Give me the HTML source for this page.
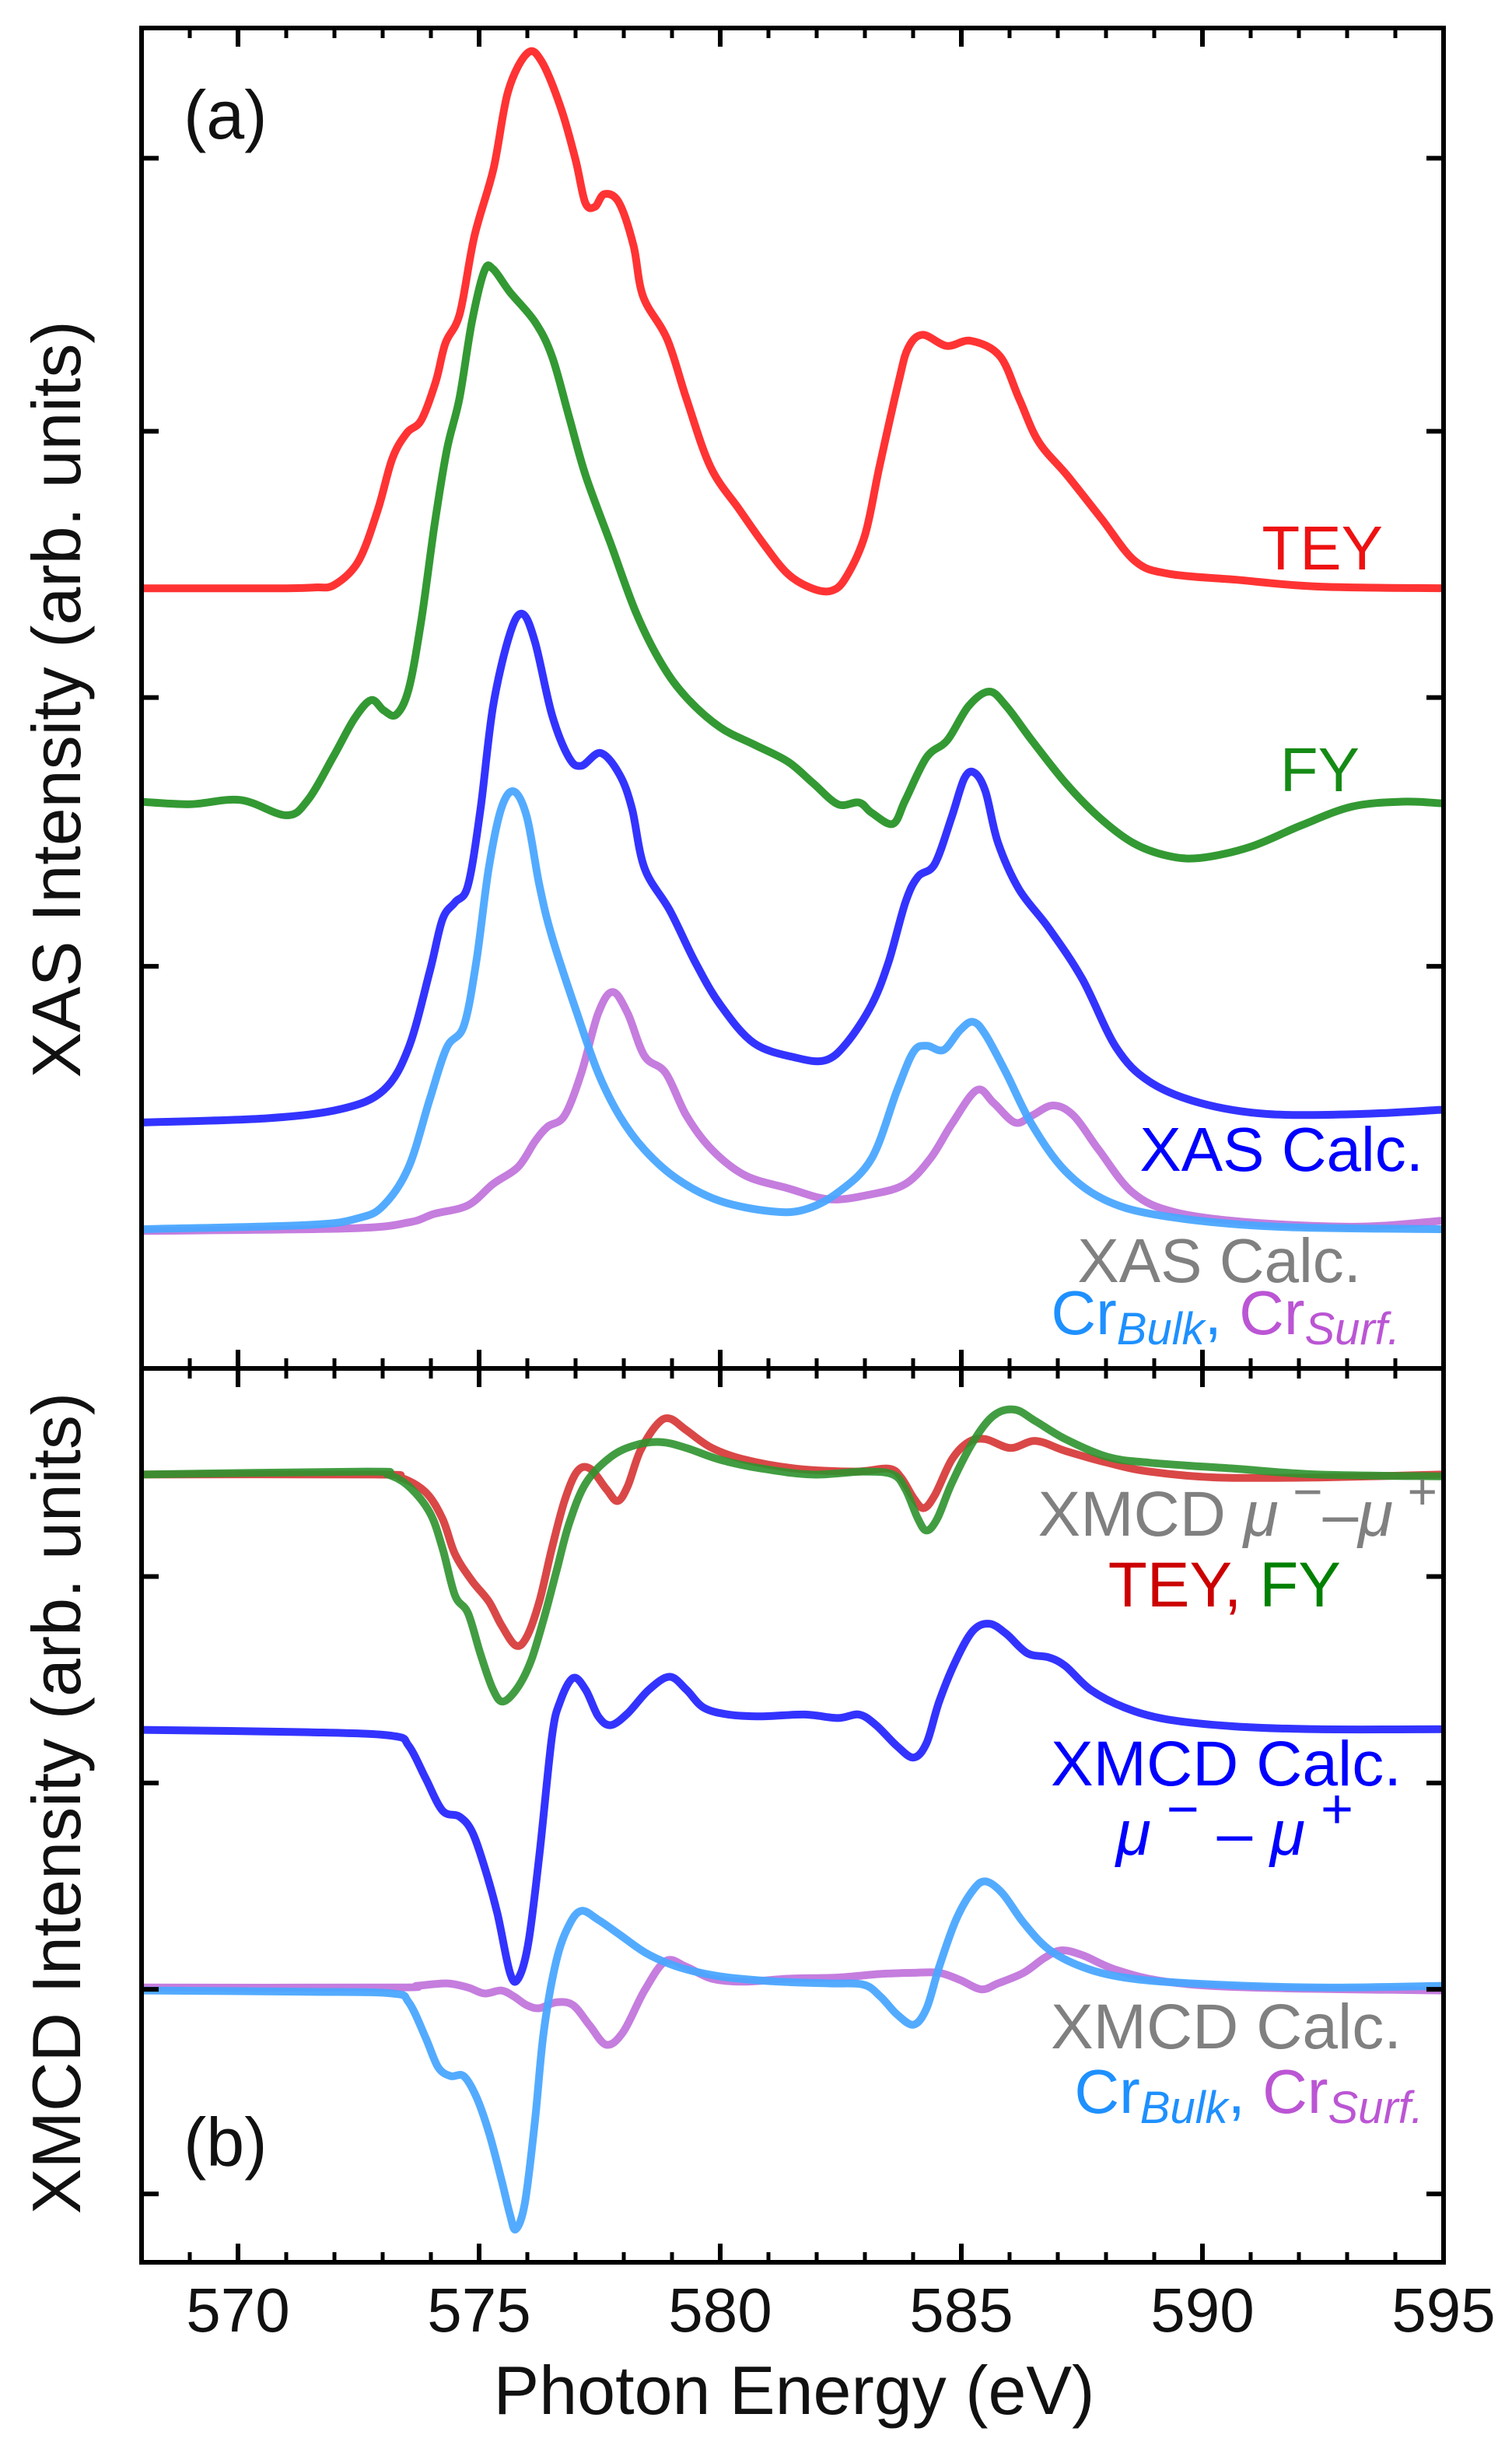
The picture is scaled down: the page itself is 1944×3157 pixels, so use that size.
<!DOCTYPE html>
<html><head><meta charset="utf-8"><style>
html,body{margin:0;padding:0;background:#fff}
svg{display:block}
text{font-family:"Liberation Sans",Arial,sans-serif}
</style></head><body>
<svg id="chart" width="1944" height="3157" viewBox="0 0 1944 3157" xmlns="http://www.w3.org/2000/svg">
<defs>
<clipPath id="clipA"><rect x="183" y="36" width="1672" height="1720"/></clipPath>
<clipPath id="clipB"><rect x="183" y="1762" width="1672" height="1144"/></clipPath>
</defs>
<g id="curvesA" clip-path="url(#clipA)"></g>
<g id="curvesB" clip-path="url(#clipB)"></g>
<g id="axes"></g>

<text x="236" y="178" font-size="88" fill="#111">(a)</text>
<text x="236" y="2784" font-size="88" fill="#111">(b)</text>

<text x="1778" y="732" font-size="80" fill="#ee1111" text-anchor="end">TEY</text>
<text x="1748" y="1017" font-size="80" fill="#158a15" text-anchor="end">FY</text>
<text x="1830" y="1505" font-size="80" fill="#0000ff" text-anchor="end">XAS Calc.</text>
<text x="1750" y="1648" font-size="80" fill="#808080" text-anchor="end">XAS Calc.</text>
<text x="1800" y="1715" font-size="80" text-anchor="end"><tspan fill="#1e90ff">Cr</tspan><tspan fill="#1e90ff" font-size="58" font-style="italic" dy="13">Bulk</tspan><tspan fill="#1e90ff" font-size="80" dy="-13">, </tspan><tspan fill="#bb55d4">Cr</tspan><tspan fill="#bb55d4" font-size="58" font-style="italic" dy="13">Surf.</tspan></text>

<text x="1848" y="1974" font-size="82" fill="#808080" text-anchor="end">XMCD <tspan font-style="italic">μ</tspan><tspan font-size="66" dy="-34"> −</tspan><tspan dy="34">–</tspan><tspan font-style="italic">μ</tspan><tspan font-size="66" dy="-34"> +</tspan></text>
<text x="1724" y="2065" font-size="82" text-anchor="end"><tspan fill="#cc0000">TEY, </tspan><tspan fill="#008000">FY</tspan></text>
<text x="1802" y="2295" font-size="82" fill="#0000ff" text-anchor="end">XMCD Calc.</text>
<text x="1740" y="2384" font-size="82" fill="#0000ff" text-anchor="end"><tspan font-style="italic">μ</tspan><tspan font-size="72" dy="-34"> −</tspan><tspan dy="34"> – </tspan><tspan font-style="italic">μ</tspan><tspan font-size="72" dy="-34"> +</tspan></text>
<text x="1802" y="2633" font-size="82" fill="#808080" text-anchor="end">XMCD Calc.</text>
<text x="1830" y="2716" font-size="80" text-anchor="end"><tspan fill="#1e90ff">Cr</tspan><tspan fill="#1e90ff" font-size="58" font-style="italic" dy="13">Bulk</tspan><tspan fill="#1e90ff" font-size="80" dy="-13">, </tspan><tspan fill="#bb55d4">Cr</tspan><tspan fill="#bb55d4" font-size="58" font-style="italic" dy="13">Surf.</tspan></text>

<text transform="translate(103,899) rotate(-90)" font-size="88" fill="#111" text-anchor="middle">XAS Intensity (arb. units)</text>
<text transform="translate(103,2318) rotate(-90)" font-size="88" fill="#111" text-anchor="middle">XMCD Intensity (arb. units)</text>
<text x="1021" y="3103" font-size="88" fill="#111" text-anchor="middle">Photon Energy (eV)</text>
</svg>
<script>
// ---- Panel (a) XAS data (energy eV, intensity arb.) ----
const teyE=[568,570,571,571.6,572.0,572.5,572.9,573.2,573.5,573.8,574.1,574.3,574.6,574.9,575.3,575.6,576.0,576.3,576.7,577.0,577.2,577.4,577.6,577.9,578.2,578.4,578.9,579.3,579.8,580.4,580.9,581.4,581.9,582.3,582.6,583.0,583.3,583.7,583.9,584.2,584.7,585.2,585.8,586.2,586.6,587.2,587.9,588.6,589.3,590.7,592.4,595];
const teyI=[758,758,758,759,762,790,850,910,940,955,1000,1045,1080,1170,1250,1340,1385,1375,1320,1260,1210,1205,1220,1210,1160,1100,1050,980,900,850,810,775,758,755,770,820,900,1000,1040,1055,1042,1048,1030,980,930,890,840,790,775,768,760,758];
const fyE=[567.96,569.0,570.05,571.0,571.45,571.97,572.41,572.76,573.02,573.28,573.54,573.80,574.07,574.33,574.59,574.85,575.11,575.29,575.64,576.16,576.51,576.86,577.21,577.73,578.25,578.78,579.30,580.0,580.70,581.40,581.92,582.44,582.88,583.14,583.58,583.84,584.28,584.71,585.15,585.58,585.93,586.46,587.16,587.85,588.55,589.25,589.95,590.99,592.04,593.09,594.14,594.97];
const fyI=[508,505,510,492,510,560,605,627,615,610,640,720,830,920,980,1070,1130,1132,1105,1070,1030,960,890,810,730,670,630,595,575,555,530,505,507,495,482,510,560,580,620,637,620,580,530,490,460,445,442,455,480,502,508,506];
const calcE=[568.0,570.6,572.15,573.02,573.54,573.98,574.24,574.50,574.77,575.03,575.29,575.64,575.90,576.16,576.51,576.86,577.12,577.52,577.91,578.17,578.43,578.96,579.48,580.0,580.70,581.57,582.18,582.62,583.14,583.49,583.84,584.10,584.45,584.80,585.06,585.27,585.50,585.76,586.20,586.81,587.51,588.21,588.90,589.95,591.35,593.26,594.97];
const calcI=[132,137,148,170,220,310,370,390,410,500,620,705,728,695,610,560,550,565,540,500,430,380,320,270,225,208,205,225,270,320,390,420,435,490,535,542,520,460,405,360,300,220,180,155,142,142,147];
const bulkE=[568.0,571.45,572.5,573.02,573.54,573.98,574.33,574.68,574.94,575.20,575.46,575.72,575.99,576.25,576.51,577.03,577.47,577.91,578.43,579.13,580.0,581.05,581.75,582.44,583.14,583.67,584.01,584.28,584.63,584.97,585.24,585.50,585.93,586.46,587.16,588.03,589.25,591.52,594.97];
const bulkI=[7,12,20,35,80,160,220,245,320,430,500,520,490,410,350,260,190,140,100,65,40,28,30,50,90,170,215,222,217,240,250,235,190,130,75,40,22,10,7];
const surfE=[568.0,572.32,573.54,574.07,574.77,575.29,575.81,576.16,576.42,576.77,577.12,577.47,577.77,578.08,578.43,578.87,579.30,579.83,580.52,581.40,582.27,583.14,583.84,584.36,584.80,585.32,585.67,586.11,586.46,586.90,587.33,587.85,588.55,589.42,591.0,593.26,594.97];
const surfI=[5,8,15,25,35,60,80,110,127,140,190,260,285,260,210,190,140,100,70,55,42,48,60,90,130,170,155,132,140,152,140,100,50,27,15,10,17];
// ---- Panel (b) XMCD data ----
const mTeyE=[567.96,572.84,573.37,573.89,574.24,574.50,574.85,575.20,575.46,575.76,575.99,576.25,576.51,576.77,577.03,577.30,577.64,577.87,578.08,578.34,578.69,578.95,579.30,579.83,580.52,581.57,582.79,583.49,583.75,584.01,584.22,584.45,584.80,585.15,585.50,586.02,586.54,587.16,588.03,588.90,590.30,592.39,594.97];
const mTeyI=[873,873,868,843,798,738,693,658,618,583,598,658,748,828,878,883,848,828,853,913,958,968,948,918,898,883,878,883,868,833,816,838,898,928,933,918,930,913,893,878,868,868,873];
const mFyE=[567.96,572.67,573.11,573.54,573.98,574.24,574.50,574.77,575.03,575.29,575.50,575.81,576.08,576.34,576.60,576.86,577.21,577.73,578.25,578.78,579.30,580.0,580.87,581.92,582.97,583.58,583.84,584.10,584.28,584.50,584.80,585.24,585.67,586.11,586.55,587.16,588.03,588.90,590.65,592.39,594.97];
const mFyI=[873,878,873,853,808,748,668,638,568,508,488,513,558,628,708,788,858,903,923,928,918,898,883,873,878,873,848,798,778,798,858,928,973,983,963,933,903,893,883,873,870];
const mCalcE=[567.96,571.45,573.19,573.54,573.89,574.24,574.59,574.85,575.11,575.38,575.64,575.81,576.02,576.25,576.51,576.68,576.95,577.21,577.47,577.73,578.08,578.52,578.95,579.30,579.65,580.17,580.87,581.75,582.44,582.88,583.23,583.66,584.01,584.28,584.54,584.89,585.24,585.58,585.93,586.37,586.81,587.16,587.68,588.38,589.25,590.65,592.39,594.97];
const mCalcI=[440,436,430,413,358,303,293,268,208,128,28,18,78,228,428,488,528,508,463,448,468,508,530,508,478,466,463,466,460,466,448,413,393,418,488,558,608,620,603,570,563,548,508,478,458,446,441,441];
const mBulkE=[567.96,571.45,573.19,573.54,573.89,574.15,574.41,574.68,574.94,575.20,575.46,575.64,575.76,575.95,576.16,576.34,576.60,576.86,577.12,577.47,577.91,578.43,578.95,579.48,580.17,581.22,582.27,582.97,583.32,583.66,584.01,584.28,584.54,584.89,585.24,585.50,585.85,586.29,586.81,587.51,588.38,589.77,592.39,594.97];
const mBulkI=[-2,-4,-7,-22,-82,-132,-147,-147,-182,-242,-322,-382,-407,-362,-222,-72,48,108,133,118,93,63,43,30,20,13,10,8,-12,-42,-60,-32,38,118,168,183,163,113,68,38,20,10,3,6];
const mSurfE=[567.96,573.19,573.72,574.33,574.77,575.11,575.46,575.72,575.99,576.25,576.60,576.95,577.30,577.64,577.99,578.43,578.87,579.30,579.83,580.52,581.40,582.44,583.32,584.01,584.54,584.97,585.41,585.76,586.29,586.72,587.07,587.51,588.21,589.25,591.0,594.97];
const mSurfI=[3,3,6,10,3,-7,-2,-12,-27,-32,-22,-27,-62,-94,-72,-2,48,38,18,13,18,20,26,28,28,16,0,10,28,53,66,58,33,13,3,-2];
// ---- ticks ----
const xTickLabels=[570,575,580,585,590,595];
const xMinorTicks=[568,569,570,571,572,573,574,575,576,577,578,579,580,581,582,583,584,585,586,587,588,589,590,591,592,593,594,595];
const yTicksA=[315,630,942,1262];
const yTicksB=[700,350,0,-347];

const NS='http://www.w3.org/2000/svg';
const X0=182, X1=1856, TOPA=36, DIV=1759, BOT=2908;
function xS(e){return 306+(e-570)*62.0;}
function yA(v){return 30+(1420-v)*1.097;}
function yB(v){return 1740+(1078-v)*0.758;}
function pathFrom(E,I,yf){
  const p=E.map((e,i)=>[xS(e),yf(I[i])]);
  let d='M'+p[0][0].toFixed(1)+','+p[0][1].toFixed(1);
  for(let i=0;i<p.length-1;i++){
    const a=p[Math.max(i-1,0)],b=p[i],c=p[i+1],n=p[Math.min(i+2,p.length-1)];
    const c1=[b[0]+(c[0]-a[0])/6,b[1]+(c[1]-a[1])/6],c2=[c[0]-(n[0]-b[0])/6,c[1]-(n[1]-b[1])/6];
    d+='C'+c1[0].toFixed(1)+','+c1[1].toFixed(1)+' '+c2[0].toFixed(1)+','+c2[1].toFixed(1)+' '+c[0].toFixed(1)+','+c[1].toFixed(1);
  }
  return d;
}
function addCurve(g,E,I,yf,color,name,op){
  const el=document.createElementNS(NS,'path');
  el.setAttribute('d',pathFrom(E,I,yf));
  el.setAttribute('fill','none');
  el.setAttribute('stroke',color);
  el.setAttribute('stroke-width','10');
  el.setAttribute('stroke-linejoin','round');
  el.setAttribute('stroke-opacity',op);
  
  
  g.appendChild(el);
}
const gA=document.getElementById('curvesA'), gB=document.getElementById('curvesB');
addCurve(gA,surfE,surfI,yA,'#bb66d8','xas-cr-surf-curve','0.85');
addCurve(gA,bulkE,bulkI,yA,'#4aa6ff','xas-cr-bulk-curve','0.95');
addCurve(gA,calcE,calcI,yA,'#3333ff','xas-calc-curve','1');
addCurve(gA,fyE,fyI,yA,'#339933','xas-fy-curve','1');
addCurve(gA,teyE,teyI,yA,'#ff3333','xas-tey-curve','1');
addCurve(gB,mSurfE,mSurfI,yB,'#bb66d8','xmcd-cr-surf-curve','0.85');
addCurve(gB,mBulkE,mBulkI,yB,'#4aa6ff','xmcd-cr-bulk-curve','0.95');
addCurve(gB,mCalcE,mCalcI,yB,'#3333ff','xmcd-calc-curve','1');
addCurve(gB,mTeyE,mTeyI,yB,'#d63333','xmcd-tey-curve','0.9');
addCurve(gB,mFyE,mFyI,yB,'#2e922e','xmcd-fy-curve','0.9');

const ax=document.getElementById('axes');
function line(x1,y1,x2,y2,w,name){
  const l=document.createElementNS(NS,'line');
  l.setAttribute('x1',x1);l.setAttribute('y1',y1);l.setAttribute('x2',x2);l.setAttribute('y2',y2);
  l.setAttribute('stroke','#000');l.setAttribute('stroke-width',w);
  
  
  ax.appendChild(l);
}
line(X0,TOPA-3,X0,BOT+3,6,'left-axis-line');
line(X1,TOPA-3,X1,BOT+3,6,'right-axis-line');
line(X0-3,TOPA,X1+3,TOPA,6,'top-axis-line');
line(X0-3,DIV,X1+3,DIV,6,'panel-divider');
line(X0-3,BOT,X1+3,BOT,6,'x-axis-line');
xMinorTicks.forEach(e=>{
  const major=xTickLabels.indexOf(e)>=0;
  const L=major?24:13, x=xS(e);
  line(x,TOPA,x,TOPA+L,major?6:5,'x-tick-top');
  line(x,DIV-L,x,DIV+L,major?6:5,'x-tick-divider');
  line(x,BOT-L,x,BOT,major?6:5,'x-tick-bottom');
});
yTicksA.forEach(v=>{line(X0,yA(v),X0+22,yA(v),6,'y-tick-a-left');line(X1-22,yA(v),X1,yA(v),6,'y-tick-a-right');});
yTicksB.forEach(v=>{line(X0,yB(v),X0+22,yB(v),6,'y-tick-b-left');line(X1-22,yB(v),X1,yB(v),6,'y-tick-b-right');});
xTickLabels.forEach(e=>{
  const t=document.createElementNS(NS,'text');
  t.setAttribute('x',xS(e));t.setAttribute('y',2997);
  t.setAttribute('font-size','80');t.setAttribute('text-anchor','middle');t.setAttribute('fill','#111');
  
  
  t.textContent=e;
  ax.appendChild(t);
});
</script>
</body></html>
